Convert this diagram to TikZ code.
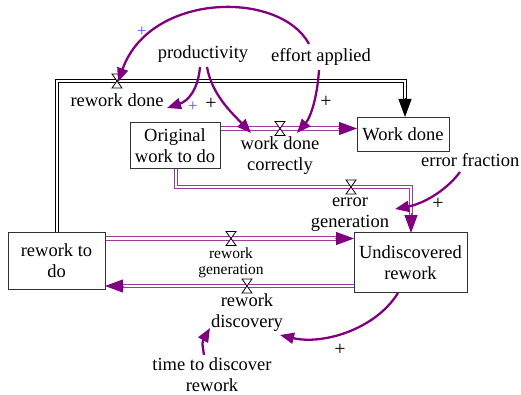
\documentclass[tikz,border=0pt]{standalone}
\usepackage{fontspec}
\setmainfont{Liberation Serif}
\usetikzlibrary{arrows.meta,calc}
\definecolor{conn}{RGB}{128,0,128}
\definecolor{pipec}{RGB}{155,60,155}
\definecolor{plusblue}{RGB}{80,80,255}
\begin{document}
\begin{tikzpicture}[x=1pt,y=-1pt,
 stock/.style={draw=black!80, line width=0.9pt, fill=white, align=center, inner sep=0pt, font=\fontsize{18.5}{21}\selectfont},
 lbl/.style={align=center, font=\fontsize{18.5}{21}\selectfont, inner sep=1pt},
 smalllbl/.style={align=center, font=\fontsize{15.5}{16}\selectfont, inner sep=1pt},
 pipe/.style={draw=pipec, line width=1pt, double=white, double distance=2.6pt},
 bpipe/.style={draw=black, line width=1pt, double=white, double distance=2.6pt},
 pipetip/.style={draw=pipec, line width=1pt, -{Triangle[length=18pt,width=13pt,color=conn]}},
 bpipetip/.style={draw=black, line width=1pt, -{Triangle[length=18pt,width=13pt,color=black]}},
 link/.style={draw=conn, line width=2.3pt, -{Triangle[length=14pt,width=11pt]}},
 plus/.style={font=\fontsize{20}{20}\selectfont, inner sep=0pt},
 bplus/.style={text=plusblue, font=\fontsize{17}{17}\selectfont, inner sep=0pt},
 valve/.pic={\draw[black, line width=0.8pt, fill=white] (-5,-7) -- (5,-7) -- (-5,7) -- (5,7) -- cycle;}
]
\useasboundingbox (0,0) rectangle (521,395);

% pipes
\draw[bpipe] (57,233) -- (57,81) -- (405,81) -- (405,100);
\draw[bpipetip] (405,98) -- (405,117);
\draw[pipe] (220,128.5) -- (342,128.5);
\draw[pipetip] (338,128.5) -- (357,128.5);
\draw[pipe] (176,168) -- (176,187) -- (411,187) -- (411,216);
\draw[pipetip] (411,213) -- (411,233);
\draw[pipe] (105,238.5) -- (338,238.5);
\draw[pipetip] (335,238.5) -- (354,238.5);
\draw[pipe] (354,286) -- (122,286);
\draw[pipetip] (124,286) -- (105,286);

% stocks
\node[stock, minimum width=90pt, minimum height=46pt] (orig) at (175,145.5) {Original\\work to do};
\node[stock, minimum width=92pt, minimum height=34pt] (wd) at (403,134) {Work done};
\node[stock, minimum width=97pt, minimum height=57pt] (rtd) at (56.5,261) {rework to\\do};
\node[stock, minimum width=113pt, minimum height=60pt] (ur) at (410.5,262.5) {Undiscovered\\rework};

% valves
\coordinate (vrwd) at (117,81);
\coordinate (vwdc) at (280,128.5);
\coordinate (veg) at (351,187);
\coordinate (vrg) at (231,238.5);
\coordinate (vrd) at (247,286);
\foreach \v in {vrwd,vwdc,veg,vrg,vrd} \pic at (\v) {valve};

% labels
\node[lbl] (rwd) at (117,100) {rework done};
\node[lbl] (wdc) at (280,156) {work done\\correctly};
\node[lbl] (eg) at (350,215) {error\\generation};
\node[smalllbl] (rg) at (231,263) {rework\\generation};
\node[lbl] (rdisc) at (247,313) {rework\\discovery};
\node[lbl] (prod) at (203,54) {productivity};
\node[lbl] (eff) at (321,57) {effort applied};
\node[lbl, anchor=west] (ef) at (420,160) {error fraction};
\node[lbl] (ttd) at (212,375) {time to discover\\rework};

% connector ends
\coordinate (effA) at (309,44);
\coordinate (effB) at (319,70);
\coordinate (prodA) at (200,67);
\coordinate (prodB) at (207,67);
\coordinate (rwdE) at (167,108);
\coordinate (wdcA) at (251,133);
\coordinate (wdcB) at (297,133);
\coordinate (efA) at (460,172);
\coordinate (egE) at (395,209);
\coordinate (urA) at (398,293);
\coordinate (rdE) at (280,335);
\coordinate (ttdA) at (204,355);
\coordinate (rdE2) at (210,328);

% connectors
\draw[link] (effA) .. controls (280,-10) and (150,-8) .. ($(vrwd)+(1,1)$);
\draw[link] (prodA) .. controls (198,90) and (188,101) .. (rwdE);
\draw[link] (prodB) .. controls (212,95) and (232,113) .. (wdcA);
\draw[link] (effB) .. controls (317,100) and (310,118) .. (wdcB);
\draw[link] (efA) .. controls (445,192) and (422,204) .. (egE);
\draw[link] (urA) .. controls (375,330) and (322,345) .. (rdE);
\draw[link] (ttdA) .. controls (202,342) .. (rdE2);

% polarities
\node[bplus] (p1) at (142,32) {+};
\node[bplus] (p2) at (193,107) {+};
\node[plus] (p3) at (211,104) {+};
\node[plus] (p4) at (326,102) {+};
\node[plus] (p5) at (438,204) {+};
\node[plus] (p6) at (340,350) {+};
\end{tikzpicture}
\end{document}
